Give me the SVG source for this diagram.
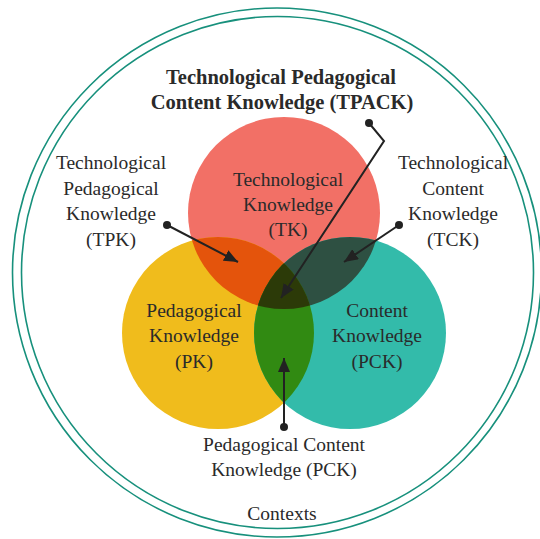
<svg xmlns="http://www.w3.org/2000/svg" width="540" height="539" viewBox="0 0 540 539">
<style>
.lbl{font-family:"Liberation Serif","Times New Roman",serif;font-size:19.5px;fill:#2a2a2a;text-anchor:middle}
.ttl{font-family:"Liberation Serif","Times New Roman",serif;font-size:20.5px;font-weight:bold;fill:#2a2a2a;text-anchor:middle}
.ring{fill:none;stroke:#17907c;stroke-width:1.6}
.con{fill:none;stroke:#222;stroke-width:2}
.dot{fill:#222}
</style>
<defs>
<marker id="ah" viewBox="0 0 14 12" refX="14" refY="6" markerWidth="14" markerHeight="12" markerUnits="userSpaceOnUse" orient="auto">
<path d="M0,0 L14,6 L0,12 Z" fill="#222"/>
</marker>
<clipPath id="cR"><circle cx="284" cy="213" r="96"/></clipPath>
<clipPath id="cY"><circle cx="218" cy="333" r="96"/></clipPath>
</defs>
<rect width="540" height="539" fill="#fff"/>
<g id="contexts">
<circle class="ring" cx="277" cy="272.5" r="264.5"/>
<circle class="ring" cx="277.5" cy="272.5" r="256"/>
<text class="lbl" x="282" y="520">Contexts</text>
</g>
<g id="TK">
<circle cx="284" cy="213" r="96" fill="#f27066"/>
</g>
<g id="PK">
<circle cx="218" cy="333" r="96" fill="#f0bc1c"/>
</g>
<g id="CK">
<circle cx="350" cy="333" r="96" fill="#33bbaa"/>
</g>
<g id="TPK">
<circle cx="218" cy="333" r="96" fill="#e4540c" clip-path="url(#cR)"/>
</g>
<g id="TCK">
<circle cx="350" cy="333" r="96" fill="#2e5042" clip-path="url(#cR)"/>
</g>
<g id="PCK">
<circle cx="350" cy="333" r="96" fill="#318a12" clip-path="url(#cY)"/>
</g>
<g id="TPACK">
<g clip-path="url(#cR)"><circle cx="350" cy="333" r="96" fill="#2c3a08" clip-path="url(#cY)"/></g>
</g>
<g id="labels">
<text class="ttl" x="281" y="84">Technological Pedagogical</text>
<text class="ttl" x="282" y="109">Content Knowledge (TPACK)</text>
<text class="lbl" x="111" y="169">Technological</text>
<text class="lbl" x="111" y="195">Pedagogical</text>
<text class="lbl" x="111" y="220">Knowledge</text>
<text class="lbl" x="111" y="246">(TPK)</text>
<text class="lbl" x="453" y="169">Technological</text>
<text class="lbl" x="453" y="195">Content</text>
<text class="lbl" x="453" y="220">Knowledge</text>
<text class="lbl" x="453" y="246">(TCK)</text>
<text class="lbl" x="288" y="186">Technological</text>
<text class="lbl" x="288" y="211">Knowledge</text>
<text class="lbl" x="288" y="236">(TK)</text>
<text class="lbl" x="194" y="317">Pedagogical</text>
<text class="lbl" x="194" y="342">Knowledge</text>
<text class="lbl" x="194" y="368">(PK)</text>
<text class="lbl" x="377" y="317">Content</text>
<text class="lbl" x="377" y="342">Knowledge</text>
<text class="lbl" x="377" y="368">(PCK)</text>
<text class="lbl" x="284" y="451">Pedagogical Content</text>
<text class="lbl" x="284" y="476">Knowledge (PCK)</text>
</g>
<g id="connectors">
<polyline class="con" points="369,123 384,141 281,298" marker-end="url(#ah)"/>
<circle class="dot" cx="369" cy="123" r="4"/>
<line class="con" x1="167" y1="225" x2="238" y2="262" marker-end="url(#ah)"/>
<circle class="dot" cx="167" cy="225" r="4"/>
<line class="con" x1="399" y1="225" x2="344" y2="262" marker-end="url(#ah)"/>
<circle class="dot" cx="399" cy="225" r="4"/>
<line class="con" x1="284" y1="427" x2="284" y2="358" marker-end="url(#ah)"/>
<circle class="dot" cx="284" cy="427" r="4"/>
</g>
</svg>
